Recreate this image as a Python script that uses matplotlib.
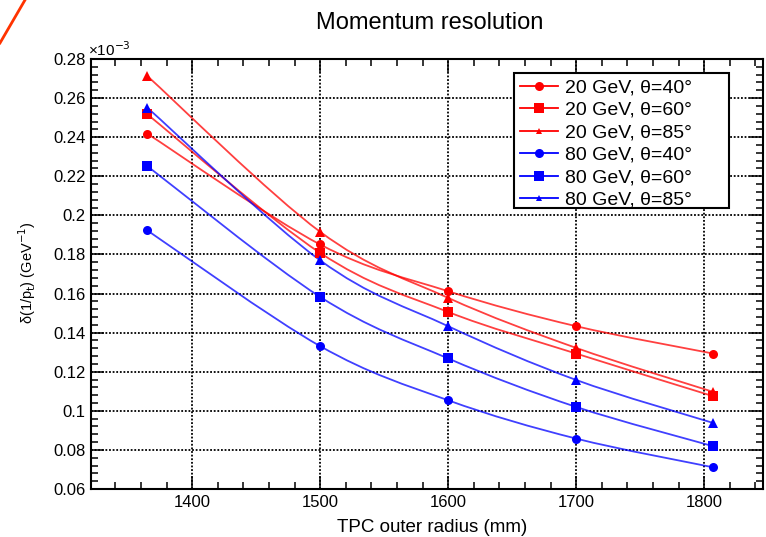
import numpy as np
import matplotlib
matplotlib.use('Agg')
import matplotlib.pyplot as plt
from matplotlib.path import Path
from matplotlib.patches import PathPatch, Rectangle
from matplotlib.lines import Line2D
from matplotlib.ticker import MultipleLocator, FuncFormatter

plt.rcParams['font.family'] = ['Liberation Sans', 'DejaVu Sans']

# TPC outer radius (mm)
radius = [1365, 1500, 1600, 1700, 1807]

# delta(1/pt) in units of 1e-3 GeV^-1
e20_th40 = [0.2418, 0.1851, 0.1612, 0.1433, 0.1293]
e20_th60 = [0.2517, 0.1808, 0.1506, 0.1293, 0.1075]
e20_th85 = [0.2713, 0.1916, 0.1578, 0.1322, 0.1097]
e80_th40 = [0.1923, 0.1331, 0.1054, 0.0858, 0.0711]
e80_th60 = [0.2252, 0.1583, 0.1268, 0.1020, 0.0819]
e80_th85 = [0.2551, 0.1770, 0.1433, 0.1158, 0.0938]

labels = ['20 GeV, \u03b8=40\u00b0', '20 GeV, \u03b8=60\u00b0', '20 GeV, \u03b8=85\u00b0',
          '80 GeV, \u03b8=40\u00b0', '80 GeV, \u03b8=60\u00b0', '80 GeV, \u03b8=85\u00b0']


def smooth_path(x, y):
    # catmull-rom through the points, drawn as cubic bezier segments
    p = np.column_stack([x, y]).astype(float)
    ext = np.vstack([p[0], p, p[-1]])
    verts = [p[0]]
    codes = [Path.MOVETO]
    for i in range(len(p) - 1):
        c1 = ext[i + 1] + (ext[i + 2] - ext[i]) / 6.0
        c2 = ext[i + 2] - (ext[i + 3] - ext[i + 1]) / 6.0
        verts += [c1, c2, ext[i + 2]]
        codes += [Path.CURVE4] * 3
    return Path(verts, codes)


fig = plt.figure(figsize=(7.66, 5.37), dpi=100)
ax = fig.add_axes([91 / 766, 1 - 489 / 537, (763 - 91) / 766, (489 - 59) / 537])

series = [(e20_th40, 'red', 'o'), (e20_th60, 'red', 's'), (e20_th85, 'red', '^'),
          (e80_th40, 'blue', 'o'), (e80_th60, 'blue', 's'), (e80_th85, 'blue', '^')]

handles = []
for vals, col, mk in series:
    ax.add_patch(PathPatch(smooth_path(radius, vals), facecolor='none', edgecolor=col,
                           lw=1.3, alpha=0.75, zorder=3))
    ax.plot(radius, vals, linestyle='none', marker=mk, color=col, ms=6.5,
            markeredgewidth=0, zorder=4)
    handles.append(Line2D([], [], color=col, lw=1.3, marker=mk,
                          ms=5 if mk == '^' else 6.5, markeredgewidth=0))

ax.set_xlim(1321, 1846)
ax.set_ylim(0.06, 0.28)

ax.xaxis.set_major_locator(MultipleLocator(100))
ax.xaxis.set_minor_locator(MultipleLocator(20))
ax.yaxis.set_major_locator(MultipleLocator(0.02))
ax.yaxis.set_minor_locator(MultipleLocator(0.004))
ax.yaxis.set_major_formatter(FuncFormatter(lambda v, p: '%g' % round(v, 3)))

ax.tick_params(which='both', direction='in', top=True, right=True, width=1.1, colors='black')
ax.tick_params(which='major', length=9.5, labelsize=12, pad=4)
ax.tick_params(which='minor', length=5)
for sp in ax.spines.values():
    sp.set_linewidth(1.5)

ax.grid(which='major', color='black', linestyle=(0, (1, 1)), lw=1.3, zorder=1)
ax.set_axisbelow(True)

# legend box (ROOT style, fixed width) drawn separately from the entries
fig.add_artist(Rectangle((514 / 766, 1 - 208 / 537), (729 - 514) / 766, (208 - 73) / 537,
                         transform=fig.transFigure, facecolor='white', edgecolor='black',
                         lw=1.5, zorder=5))
leg = fig.legend(handles, labels, loc='upper left', bbox_to_anchor=(514 / 766, 1 - 73 / 537),
                 bbox_transform=fig.transFigure, borderaxespad=0, fontsize=14,
                 labelspacing=0.25, handlelength=1.96, handletextpad=0.36,
                 borderpad=0.3, frameon=False)
leg.set_zorder(6)

fig.text(88 / 766, 1 - 56 / 537, '\u00d710$^{-3}$', fontsize=11, ha='left', va='baseline')
fig.text(430 / 766, 1 - 23 / 537, 'Momentum resolution', fontsize=17, ha='center', va='center')
fig.text(432 / 766, 1 - 527 / 537, 'TPC outer radius (mm)', fontsize=13.5, ha='center', va='center')
fig.text(27 / 766, 1 - 273 / 537, '\u03b4(1/p$_{\\rm t}$) (GeV$^{-1}$)', fontsize=10.5,
         rotation=90, ha='center', va='center')

# orange stroke in the top-left corner of the slide
fig.add_artist(Line2D([0, 25 / 766], [1 - 43 / 537, 1.0], transform=fig.transFigure,
                      color='#ff3300', lw=2))

fig.savefig('out.png', dpi=100)
